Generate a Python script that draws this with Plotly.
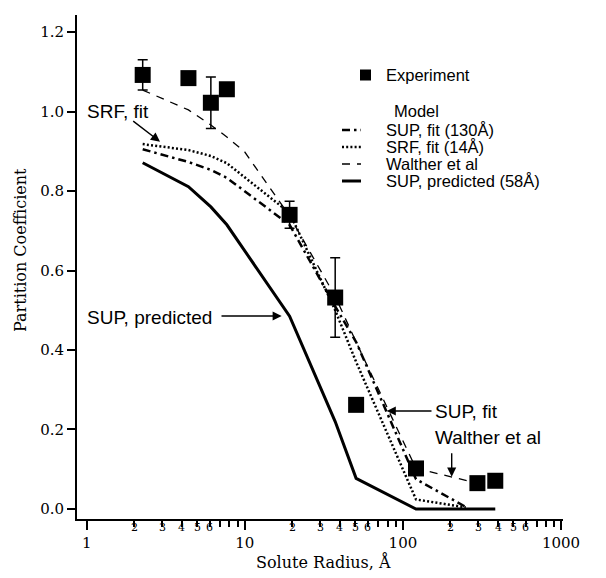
import numpy as np
import plotly.graph_objects as go

# ---------------- data ----------------
radius_exp = [2.26, 4.4, 6.1, 7.7, 19.2, 37.3, 50.6, 121, 296, 384]
kp_exp = [1.092, 1.084, 1.022, 1.056, 0.740, 0.532, 0.262, 0.102, 0.065, 0.071]
kp_err = [0.038, 0.0, 0.065, 0.0, 0.034, 0.100, 0.0, 0.0, 0.0, 0.0]

radius_sup_fit = [2.26, 4.4, 6.1, 7.7, 19.2, 37.3, 50.6, 121, 250]
kp_sup_fit = [0.905, 0.873, 0.853, 0.833, 0.715, 0.510, 0.420, 0.075, 0.005]

radius_srf_fit = [2.26, 4.4, 6.1, 7.7, 19.2, 37.3, 50.6, 121, 250]
kp_srf_fit = [0.918, 0.903, 0.888, 0.870, 0.745, 0.500, 0.370, 0.024, 0.004]

radius_walther = [2.26, 4.4, 6.1, 7.7, 10, 19.2, 37.3, 50.6, 121, 296]
kp_walther = [1.054, 1.004, 0.966, 0.936, 0.898, 0.737, 0.535, 0.420, 0.102, 0.065]

radius_sup_pred = [2.26, 4.4, 6.1, 7.7, 19.2, 37.3, 50.6, 121, 296, 384]
kp_sup_pred = [0.871, 0.811, 0.760, 0.715, 0.485, 0.220, 0.077, 0.0, 0.0, 0.0]

y_ticks = [0.0, 0.2, 0.4, 0.6, 0.8, 1.0, 1.2]
x_major = [1, 10, 100, 1000]
x_minor_digits = [2, 3, 4, 5, 6, 7, 8, 9]
x_minor_labelled = [2, 3, 4, 5, 6]
decades = [1, 10, 100]

legend_items = ["SUP, fit (130Å)", "SRF, fit (14Å)", "Walther et al", "SUP, predicted (58Å)"]

# ---------------- layout helpers ----------------
W, H = 606, 578
ML, MR, MT, MB = 77, 43, 15, 59
PW, PH = W - ML - MR, H - MT - MB


def PX(px):
    return (px - ML) / PW


def PY(py):
    return (H - MB - py) / PH


SERIF = "DejaVu Serif"
SANS = "Liberation Sans"

fig = go.Figure()

styles = {
    "walther": dict(color="black", width=1.3, dash="8px,7px"),
    "srf": dict(color="black", width=2.5, dash="2px,2.2px"),
    "supfit": dict(color="black", width=2.5, dash="8px,4px,2.5px,4px"),
    "suppred": dict(color="black", width=3, dash="solid"),
}

fig.add_trace(go.Scatter(x=radius_walther, y=kp_walther, mode="lines",
                         line=styles["walther"], showlegend=False))
fig.add_trace(go.Scatter(x=radius_srf_fit, y=kp_srf_fit, mode="lines",
                         line=styles["srf"], showlegend=False))
fig.add_trace(go.Scatter(x=radius_sup_fit, y=kp_sup_fit, mode="lines",
                         line=styles["supfit"], showlegend=False))
fig.add_trace(go.Scatter(x=radius_sup_pred, y=kp_sup_pred, mode="lines",
                         line=styles["suppred"], showlegend=False))
fig.add_trace(go.Scatter(
    x=radius_exp, y=kp_exp, mode="markers",
    marker=dict(symbol="square", size=16, color="black"),
    error_y=dict(type="data", array=kp_err, visible=True, color="black",
                 thickness=1.5, width=5),
    showlegend=False))

minor_vals = [d * m for d in decades for m in x_minor_digits]

fig.update_xaxes(
    type="log", range=[-0.0614, 3.0127],
    showline=True, linewidth=2, linecolor="black", mirror=False,
    ticks="outside", ticklen=9, tickwidth=2, tickcolor="black",
    tickmode="array", tickvals=x_major, ticktext=[str(v) for v in x_major],
    tickfont=dict(family=SERIF, size=15, color="black"),
    minor=dict(tickmode="array", tickvals=minor_vals, ticks="outside",
               ticklen=6, tickwidth=1.5, tickcolor="black", showgrid=False),
    showgrid=False, zeroline=False,
)
fig.update_yaxes(
    range=[-0.0252, 1.2428],
    showline=True, linewidth=2, linecolor="black", mirror=False,
    ticks="outside", ticklen=8, tickwidth=2, tickcolor="black",
    tickmode="array", tickvals=y_ticks, ticktext=[f"{v:.1f}" for v in y_ticks],
    tickfont=dict(family=SERIF, size=15, color="black"),
    showgrid=False, zeroline=False,
)

ann = []
# minor x tick labels
for d in decades:
    for m in x_minor_labelled:
        ann.append(dict(x=np.log10(d * m), xref="x", y=PY(527), yref="paper",
                        text=str(m), showarrow=False, xanchor="center", yanchor="middle",
                        font=dict(family=SERIF, size=11, color="black")))
# axis titles
ann.append(dict(x=PX(323), y=PY(562), xref="paper", yref="paper",
                text="Solute Radius, Å", showarrow=False,
                xanchor="center", yanchor="middle",
                font=dict(family=SERIF, size=16, color="black")))
ann.append(dict(x=PX(20), y=PY(250), xref="paper", yref="paper",
                text="Partition Coefficient", showarrow=False, textangle=-90,
                xanchor="center", yanchor="middle",
                font=dict(family=SERIF, size=16, color="black")))

# in-plot annotations
afont = dict(family=SANS, size=19, color="black")
ann.append(dict(x=PX(85), y=PY(112), xref="paper", yref="paper", text="SRF, fit",
                showarrow=False, xanchor="left", yanchor="middle", font=afont))
ann.append(dict(x=PX(85), y=PY(317), xref="paper", yref="paper", text="SUP, predicted",
                showarrow=False, xanchor="left", yanchor="middle", font=afont))
ann.append(dict(x=PX(433), y=PY(411), xref="paper", yref="paper", text="SUP, fit",
                showarrow=False, xanchor="left", yanchor="middle", font=afont))
ann.append(dict(x=PX(433), y=PY(437), xref="paper", yref="paper", text="Walther et al",
                showarrow=False, xanchor="left", yanchor="middle", font=afont))

arrows = [
    ((160, 141.7), (131.7, 120)),
    ((281.7, 316), (220, 316)),
    ((386.7, 411), (433, 411)),
    ((451.7, 476.7), (451.7, 451.7)),
]
for (tx, ty), (sx, sy) in arrows:
    ann.append(dict(x=PX(tx), y=PY(ty), xref="paper", yref="paper", text="",
                    showarrow=True, ax=sx - tx, ay=sy - ty, axref="pixel", ayref="pixel",
                    arrowhead=2, arrowsize=1.3, arrowwidth=1.4, arrowcolor="black",
                    standoff=0, startstandoff=0))

# legend (drawn by hand)
lfont = dict(family=SANS, size=16.5, color="black")
ann.append(dict(x=PX(384), y=PY(75), xref="paper", yref="paper", text="Experiment",
                showarrow=False, xanchor="left", yanchor="middle", font=lfont))
ann.append(dict(x=PX(416), y=PY(111), xref="paper", yref="paper", text="Model",
                showarrow=False, xanchor="center", yanchor="middle", font=lfont))
leg_y = [130, 147, 164, 181]
leg_styles = [styles["supfit"], styles["srf"], styles["walther"], styles["suppred"]]
shapes = [dict(type="rect", xref="paper", yref="paper",
               x0=PX(360), x1=PX(371), y0=PY(80.5), y1=PY(69.5),
               fillcolor="black", line=dict(width=0))]
for txt, yy, st in zip(legend_items, leg_y, leg_styles):
    ann.append(dict(x=PX(384), y=PY(yy), xref="paper", yref="paper", text=txt,
                    showarrow=False, xanchor="left", yanchor="middle", font=lfont))
    shapes.append(dict(type="line", xref="paper", yref="paper",
                       x0=PX(342), x1=PX(361), y0=PY(yy), y1=PY(yy),
                       line=dict(color="black", width=st["width"], dash=st["dash"])))

fig.update_layout(
    width=W, height=H,
    margin=dict(l=ML, r=MR, t=MT, b=MB),
    paper_bgcolor="white", plot_bgcolor="white",
    annotations=ann, shapes=shapes, showlegend=False,
)

fig.write_html("out.html")
